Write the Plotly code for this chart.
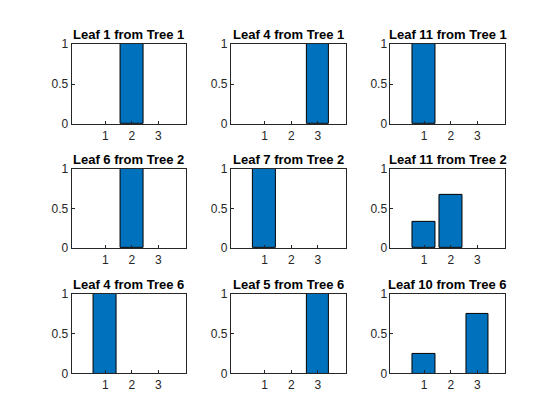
import plotly.graph_objects as go

titles = ["Leaf 1 from Tree 1", "Leaf 4 from Tree 1", "Leaf 11 from Tree 1",
          "Leaf 6 from Tree 2", "Leaf 7 from Tree 2", "Leaf 11 from Tree 2",
          "Leaf 4 from Tree 6", "Leaf 5 from Tree 6", "Leaf 10 from Tree 6"]
classes = [1, 2, 3]
probs = [
    [0, 1, 0], [0, 0, 1], [1, 0, 0],
    [0, 1, 0], [1, 0, 0], [0.333, 0.667, 0],
    [1, 0, 0], [0, 0, 1], [0.25, 0, 0.75],
]

xdom = [[0.1135, 0.318], [0.398, 0.6027], [0.683, 0.8874]]
ydom = [[0.731, 0.929], [0.4255, 0.621], [0.117, 0.313]]

fig = go.Figure()
ann = []
for i, (t, p) in enumerate(zip(titles, probs)):
    r, c = divmod(i, 3)
    n = "" if i == 0 else str(i + 1)
    # zero-height bars are not drawn
    yv = [v if v > 0 else None for v in p]
    fig.add_trace(go.Bar(x=classes, y=yv, xaxis="x" + n, yaxis="y" + n, width=0.85,
                         marker=dict(color="#0072BD", line=dict(color="black", width=1)),
                         showlegend=False))
    ax = dict(showline=True, linecolor="#262626", linewidth=1, mirror=True,
              ticks="inside", ticklen=3, tickcolor="#262626", showgrid=False,
              zeroline=False, tickfont=dict(family="Liberation Sans", size=12, color="#262626"))
    fig.layout["xaxis" + n] = dict(ax, domain=xdom[c], range=[-0.27, 4.04],
                                   tickvals=[1, 2, 3], anchor="y" + n)
    fig.layout["yaxis" + n] = dict(ax, domain=ydom[r], range=[0, 1],
                                   tickvals=[0, 0.5, 1], anchor="x" + n)
    ann.append(dict(text="<b>" + t + "</b>", x=sum(xdom[c]) / 2, y=ydom[r][1],
                    xref="paper", yref="paper", xanchor="center", yanchor="bottom",
                    showarrow=False, yshift=0,
                    font=dict(family="Liberation Sans", size=13, color="black")))

fig.update_layout(width=560, height=420, margin=dict(l=0, r=0, t=0, b=0),
                  paper_bgcolor="white", plot_bgcolor="white", annotations=ann,
                  bargap=0)
fig.write_html("out.html")
